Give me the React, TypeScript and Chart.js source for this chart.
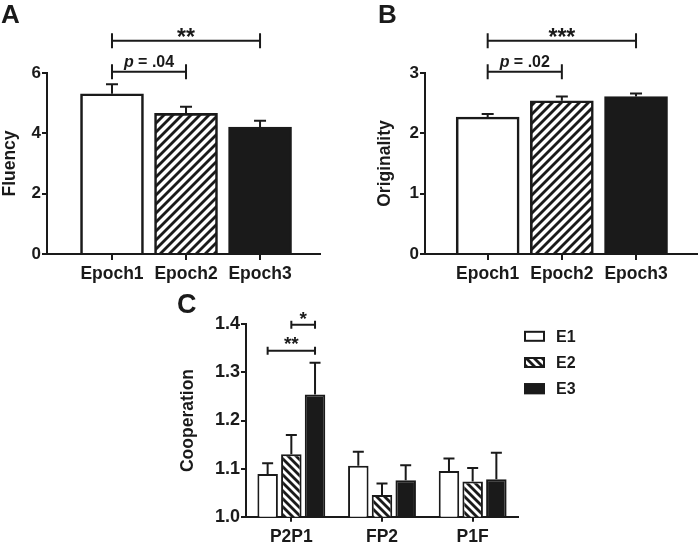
import React, { useEffect, useRef } from 'react';
import { Chart, registerables } from 'chart.js';

Chart.register(...registerables);

const FONT = '"Liberation Sans", Arial, Helvetica, sans-serif';
const INK = '#1a1a1a';

// ---- Panel A / B data ----
const epochLabels = ['Epoch1', 'Epoch2', 'Epoch3'];
const epochPositions = [1, 2, 3];
const fluencyMean = [5.31, 4.66, 4.21];
const fluencySem = [0.32, 0.22, 0.21];
const originalityMean = [2.27, 2.54, 2.61];
const originalitySem = [0.05, 0.07, 0.05];

// ---- Panel C data ----
const pairLabels = ['P2P1', 'FP2', 'P1F'];
const seriesNames = ['E1', 'E2', 'E3'];
const coopE1 = [1.089, 1.106, 1.095];
const coopE1Sem = [0.022, 0.029, 0.026];
const coopE2 = [1.13, 1.045, 1.073];
const coopE2Sem = [0.04, 0.024, 0.028];
const coopE3 = [1.254, 1.076, 1.078];
const coopE3Sem = [0.066, 0.031, 0.055];

function hatch(dir: number, size: number, lw: number): CanvasPattern {
  const c = document.createElement('canvas');
  c.width = size;
  c.height = size;
  const g = c.getContext('2d')!;
  g.fillStyle = '#fff';
  g.fillRect(0, 0, size, size);
  g.strokeStyle = INK;
  g.lineWidth = lw;
  for (const k of [-size, 0, size]) {
    g.beginPath();
    if (dir === 1) {
      g.moveTo(k - 1, size + 1);
      g.lineTo(k + size + 1, -1);
    } else {
      g.moveTo(k - 1, -1);
      g.lineTo(k + size + 1, size + 1);
    }
    g.stroke();
  }
  return g.createPattern(c, 'repeat')!;
}

function errorBarsPlugin(means: number[][], sems: number[][], cap: number, lw: number) {
  return {
    id: 'errorBars',
    afterDatasetsDraw(chart: any) {
      const ctx = chart.ctx;
      const ys = chart.scales.y;
      ctx.save();
      ctx.strokeStyle = INK;
      ctx.lineWidth = lw;
      means.forEach((m, di) => {
        const meta = chart.getDatasetMeta(di);
        meta.data.forEach((bar: any, i: number) => {
          const yTop = bar.y;
          const yErr = ys.getPixelForValue(m[i] + sems[di][i]);
          ctx.beginPath();
          ctx.moveTo(bar.x, yTop);
          ctx.lineTo(bar.x, yErr);
          ctx.moveTo(bar.x - cap, yErr);
          ctx.lineTo(bar.x + cap, yErr);
          ctx.stroke();
        });
      });
      ctx.restore();
    },
  };
}

type Bracket = {
  from: [number, number];
  to: [number, number];
  level: number;
  text: string;
  italicP?: boolean;
  size: number;
  dy: number;
  tick: number;
};

function bracketsPlugin(items: Bracket[]) {
  return {
    id: 'brackets',
    afterDraw(chart: any) {
      const ctx = chart.ctx;
      const ys = chart.scales.y;
      ctx.save();
      ctx.strokeStyle = INK;
      ctx.fillStyle = INK;
      ctx.lineWidth = 2;
      items.forEach((b) => {
        const x1 = chart.getDatasetMeta(b.from[0]).data[b.from[1]].x;
        const x2 = chart.getDatasetMeta(b.to[0]).data[b.to[1]].x;
        const y = ys.getPixelForValue(b.level);
        ctx.beginPath();
        ctx.moveTo(x1, y);
        ctx.lineTo(x2, y);
        ctx.moveTo(x1, y - b.tick);
        ctx.lineTo(x1, y + b.tick);
        ctx.moveTo(x2, y - b.tick);
        ctx.lineTo(x2, y + b.tick);
        ctx.stroke();
        const cx = (x1 + x2) / 2;
        if (b.italicP) {
          ctx.textBaseline = 'alphabetic';
          ctx.textAlign = 'left';
          const fi = `italic bold ${b.size}px ${FONT}`;
          const fn = `bold ${b.size}px ${FONT}`;
          ctx.font = fi;
          const w1 = ctx.measureText('p').width;
          ctx.font = fn;
          const rest = b.text;
          const w2 = ctx.measureText(rest).width;
          const sx = cx - (w1 + w2) / 2;
          ctx.font = fi;
          ctx.fillText('p', sx, y + b.dy);
          ctx.font = fn;
          ctx.fillText(rest, sx + w1, y + b.dy);
        } else {
          ctx.textBaseline = 'alphabetic';
          ctx.textAlign = 'center';
          ctx.font = `bold ${b.size}px ${FONT}`;
          ctx.fillText(b.text, cx, y + b.dy);
        }
      });
      ctx.restore();
    },
  };
}

function letterPlugin(letter: string, x: number, y: number, size: number) {
  return {
    id: 'panelLetter',
    afterDraw(chart: any) {
      const ctx = chart.ctx;
      ctx.save();
      ctx.fillStyle = INK;
      ctx.font = `bold ${size}px ${FONT}`;
      ctx.textAlign = 'left';
      ctx.textBaseline = 'alphabetic';
      ctx.fillText(letter, x, y);
      ctx.restore();
    },
  };
}

function legendPlugin(x: number, y0: number, step: number) {
  return {
    id: 'customLegend',
    afterDraw(chart: any) {
      const ctx = chart.ctx;
      ctx.save();
      chart.data.datasets.forEach((ds: any, i: number) => {
        const cy = y0 + i * step;
        const w = 21;
        const h = 11;
        ctx.fillStyle = Array.isArray(ds.backgroundColor) ? ds.backgroundColor[0] : ds.backgroundColor;
        ctx.fillRect(x, cy - h / 2, w, h);
        ctx.strokeStyle = INK;
        ctx.lineWidth = 2;
        ctx.strokeRect(x + 1, cy - h / 2 + 1, w - 2, h - 2);
        ctx.fillStyle = INK;
        ctx.font = `bold 16px ${FONT}`;
        ctx.textAlign = 'left';
        ctx.textBaseline = 'middle';
        ctx.fillText(ds.label, x + 32, cy + 1);
      });
      ctx.restore();
    },
  };
}

const tickFont = { family: FONT, size: 17, weight: 'bold' as const };
const labelFont = { family: FONT, size: 17.5, weight: 'bold' as const };

function epochChart(
  canvas: HTMLCanvasElement,
  opts: {
    means: number[];
    sems: number[];
    yMax: number;
    step: number;
    title: string;
    padLeft: number;
    padRight: number;
    yWidth: number;
    xMin: number;
    xMax: number;
    letter: string;
    letterX: number;
    brackets: Bracket[];
  }
) {
  const stripes = hatch(1, 9, 2.8);
  return new Chart(canvas, {
    type: 'bar',
    data: {
      datasets: [
        {
          label: opts.title,
          data: epochPositions.map((x, i) => ({ x, y: opts.means[i] })),
          backgroundColor: ['#ffffff', stripes, INK],
          borderColor: INK,
          borderWidth: 2.6,
          barThickness: 63,
        } as any,
      ],
    },
    options: {
      animation: false,
      responsive: false,
      devicePixelRatio: 1,
      layout: { padding: { left: opts.padLeft, top: 73, right: opts.padRight, bottom: 0 } },
      plugins: { legend: { display: false }, tooltip: { enabled: false } },
      scales: {
        x: {
          type: 'linear',
          min: opts.xMin,
          max: opts.xMax,
          offset: false,
          afterBuildTicks: (s: any) => {
            s.ticks = epochPositions.map((v) => ({ value: v }));
          },
          afterFit: (s: any) => {
            s.height = 36;
          },
          grid: { offset: false, drawOnChartArea: false, drawTicks: true, tickLength: 6, color: INK, lineWidth: 2 },
          border: { display: true, color: INK, width: 2 },
          ticks: {
            autoSkip: false,
            maxRotation: 0,
            padding: 4,
            color: INK,
            font: labelFont,
            callback: (v: any) => {
              const i = epochPositions.indexOf(Number(v));
              return i >= 0 ? epochLabels[i] : '';
            },
          },
        },
        y: {
          min: 0,
          max: opts.yMax,
          afterFit: (s: any) => {
            s.width = opts.yWidth;
          },
          grid: { drawOnChartArea: false, drawTicks: true, tickLength: 5, color: INK, lineWidth: 2 },
          border: { display: true, color: INK, width: 2 },
          ticks: { stepSize: opts.step, padding: 1, color: INK, font: tickFont },
          title: { display: true, text: opts.title, color: INK, font: labelFont, padding: 0 },
        },
      } as any,
    },
    plugins: [
      errorBarsPlugin([opts.means], [opts.sems], 6, 2),
      bracketsPlugin(opts.brackets),
      letterPlugin(opts.letter, opts.letterX, 23, 26),
    ],
  } as any);
}

export default function App() {
  const refA = useRef<HTMLCanvasElement>(null);
  const refB = useRef<HTMLCanvasElement>(null);
  const refC = useRef<HTMLCanvasElement>(null);

  useEffect(() => {
    const charts: Chart[] = [];
    charts.push(
      epochChart(refA.current!, {
        means: fluencyMean,
        sems: fluencySem,
        yMax: 6,
        step: 2,
        title: 'Fluency',
        padLeft: 0,
        padRight: 20,
        yWidth: 47,
        xMin: 0.122,
        xMax: 3.81,
        letter: 'A',
        letterX: 1,
        brackets: [
          { from: [0, 0], to: [0, 2], level: 7.07, text: '**', size: 23, dy: 4, tick: 7.5 },
          { from: [0, 0], to: [0, 1], level: 6.04, text: ' = .04', italicP: true, size: 16, dy: -5, tick: 7.5 },
        ],
      })
    );
    charts.push(
      epochChart(refB.current!, {
        means: originalityMean,
        sems: originalitySem,
        yMax: 3,
        step: 1,
        title: 'Originality',
        padLeft: 34.8,
        padRight: 3,
        yWidth: 50.2,
        xMin: 0.155,
        xMax: 3.822,
        letter: 'B',
        letterX: 38,
        brackets: [
          { from: [0, 0], to: [0, 2], level: 3.535, text: '***', size: 23, dy: 4, tick: 7.5 },
          { from: [0, 0], to: [0, 1], level: 3.02, text: ' = .02', italicP: true, size: 16, dy: -5, tick: 7.5 },
        ],
      })
    );

    const stripesC = hatch(-1, 8, 2.8);
    const cMeans = [coopE1, coopE2, coopE3];
    const cSems = [coopE1Sem, coopE2Sem, coopE3Sem];
    const fills = ['#ffffff', stripesC, INK];
    charts.push(
      new Chart(refC.current!, {
        type: 'bar',
        data: {
          labels: pairLabels,
          datasets: cMeans.map((m, i) => ({
            label: seriesNames[i],
            data: m,
            backgroundColor: fills[i],
            borderColor: INK,
            borderWidth: 2,
            categoryPercentage: 0.784,
            barPercentage: 0.865,
          })) as any,
        },
        options: {
          animation: false,
          responsive: false,
          devicePixelRatio: 1,
          layout: { padding: { left: 7.8, top: 34.3, right: 182, bottom: 0 } },
          plugins: { legend: { display: false }, tooltip: { enabled: false } },
          scales: {
            x: {
              type: 'category',
              offset: true,
              afterFit: (s: any) => {
                s.height = 26.3;
              },
              grid: { offset: false, drawOnChartArea: false, drawTicks: true, tickLength: 5, color: INK, lineWidth: 2 },
              border: { display: true, color: INK, width: 2 },
              ticks: { autoSkip: false, maxRotation: 0, padding: 5, color: INK, font: labelFont },
            },
            y: {
              min: 1.0,
              max: 1.4,
              afterFit: (s: any) => {
                s.width = 68.2;
              },
              grid: { drawOnChartArea: false, drawTicks: true, tickLength: 5, color: INK, lineWidth: 2 },
              border: { display: true, color: INK, width: 2 },
              ticks: { stepSize: 0.1, padding: 1, color: INK, font: { family: FONT, size: 18, weight: 'bold' }, callback: (v: any) => Number(v).toFixed(1) },
              title: { display: true, text: 'Cooperation', color: INK, font: labelFont, padding: 0 },
            },
          } as any,
        },
        plugins: [
          errorBarsPlugin(cMeans, cSems, 5.5, 2),
          bracketsPlugin([
            { from: [1, 0], to: [2, 0], level: 1.399, text: '*', size: 19, dy: 0, tick: 4 },
            { from: [0, 0], to: [2, 0], level: 1.345, text: '**', size: 19, dy: -1, tick: 4 },
          ]),
          letterPlugin('C', 7, 23, 27),
          legendPlugin(354, 46.3, 26.2),
        ],
      } as any)
    );
    return () => charts.forEach((c) => c.destroy());
  }, []);

  const abs = (l: number, t: number, w: number, h: number): React.CSSProperties => ({
    position: 'absolute',
    left: l,
    top: t,
    width: w,
    height: h,
  });

  return (
    <div style={{ position: 'fixed', left: 0, top: 0, width: 700, height: 543, background: '#fff', overflow: 'hidden' }}>
      <canvas ref={refA} width={340} height={290} style={abs(0, 0, 340, 290)} />
      <canvas ref={refB} width={360} height={290} style={abs(340, 0, 360, 290)} />
      <canvas ref={refC} width={530} height={253} style={abs(170, 290, 530, 253)} />
    </div>
  );
}
